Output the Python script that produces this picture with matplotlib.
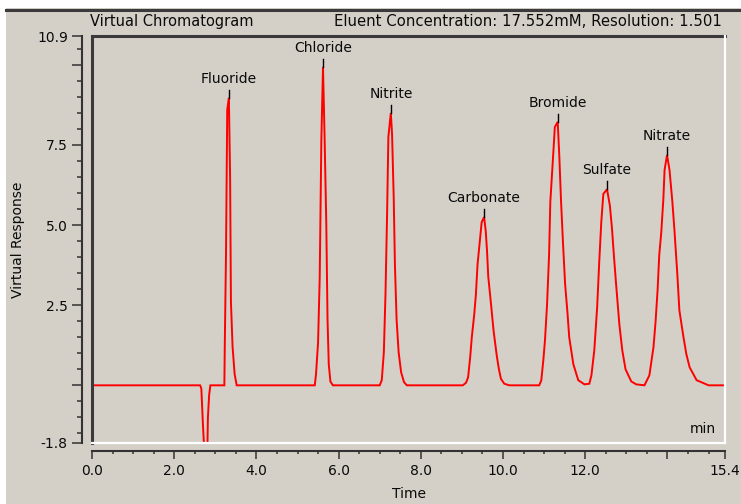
import matplotlib
matplotlib.use("Agg")
import matplotlib.pyplot as plt
from matplotlib.lines import Line2D
from matplotlib.patches import Rectangle
from matplotlib.ticker import MultipleLocator, FixedLocator, FixedFormatter

# ---- data ----
time_min = [0.0, 2.63, 2.66, 2.70, 2.75, 2.80, 2.82, 2.85, 2.88,
            3.22, 3.23, 3.26, 3.29, 3.33, 3.36, 3.38, 3.42, 3.47, 3.52,
            5.42, 5.45, 5.50, 5.54, 5.58, 5.62, 5.66, 5.70, 5.73, 5.76, 5.80, 5.86,
            7.00, 7.05, 7.10, 7.14, 7.18, 7.21, 7.27, 7.30, 7.34, 7.37, 7.41, 7.46, 7.52, 7.59, 7.66,
            9.02, 9.10, 9.15, 9.20, 9.24, 9.30, 9.34, 9.38, 9.44, 9.48, 9.54,
            9.58, 9.61, 9.64, 9.71, 9.77, 9.85, 9.90, 9.95, 10.03, 10.15,
            10.88, 10.93, 10.98, 11.02, 11.07, 11.12, 11.15, 11.22, 11.26, 11.33,
            11.37, 11.41, 11.46, 11.51, 11.57, 11.61, 11.71, 11.83, 11.98,
            12.10, 12.15, 12.22, 12.29, 12.34, 12.39, 12.44, 12.53,
            12.60, 12.65, 12.70, 12.76, 12.83, 12.90, 12.98, 13.12, 13.24, 13.44,
            13.56, 13.66, 13.71, 13.76, 13.80, 13.85, 13.90, 13.93, 13.99,
            14.05, 14.12, 14.17, 14.24, 14.29, 14.39, 14.46, 14.54, 14.71, 15.0, 15.4]

response = [0, 0, -0.1, -1.25, -2.5, -2.5, -1.0, -0.3, 0,
            0, 1.2, 4.1, 8.6, 8.97, 6.5, 2.6, 1.2, 0.35, 0,
            0, 0.35, 1.34, 3.37, 7.66, 9.94, 7.66, 5.03, 2.06, 0.66, 0.12, 0,
            0, 0.16, 1.03, 2.84, 5.4, 7.75, 8.5, 7.84, 5.87, 3.75, 2.06, 1.03, 0.41, 0.1, 0,
            0, 0.08, 0.25, 0.87, 1.5, 2.22, 2.84, 3.78, 4.56, 5.09, 5.25,
            4.8, 4.2, 3.4, 2.5, 1.7, 0.9, 0.5, 0.2, 0.05, 0,
            0, 0.15, 0.78, 1.4, 2.5, 4.06, 5.72, 7.19, 8.06, 8.22,
            7.12, 5.78, 4.4, 3.16, 2.22, 1.5, 0.66, 0.16, 0.03,
            0.05, 0.31, 1.09, 2.44, 3.84, 5.09, 5.97, 6.12,
            5.6, 4.9, 4.0, 3.0, 1.9, 1.1, 0.5, 0.12, 0.03, 0,
            0.31, 1.19, 1.97, 2.97, 4.06, 4.78, 5.81, 6.72, 7.19,
            6.72, 5.72, 4.84, 3.47, 2.34, 1.5, 0.97, 0.56, 0.16, 0, 0]

peak_names = ["Fluoride", "Chloride", "Nitrite", "Carbonate", "Bromide", "Sulfate", "Nitrate"]
peak_times = [3.33, 5.62, 7.27, 9.54, 11.33, 12.53, 13.99]
peak_heights = [8.97, 9.94, 8.5, 5.25, 8.22, 6.12, 7.19]

y_ticks = [-1.8, 0.0, 2.5, 5.0, 7.5, 10.0, 10.9]
y_tick_labels = ["-1.8", "", "2.5", "5.0", "7.5", "", "10.9"]
x_ticks = [0.0, 2.0, 4.0, 6.0, 8.0, 10.0, 12.0, 14.0, 15.4]
x_tick_labels = ["0.0", "2.0", "4.0", "6.0", "8.0", "10.0", "12.0", "", "15.4"]

title_left = "Virtual Chromatogram"
title_right = "Eluent Concentration: 17.552mM, Resolution: 1.501"

# ---- figure ----
W, H = 741, 504
BG = "#d4d0c8"
DARK = "#333333"
TXT = "#0a0a0a"
plt.rcParams["font.family"] = ["DejaVu Sans"]

fig = plt.figure(figsize=(W / 100, H / 100), dpi=100, facecolor=BG)

# white margins at top and left, dark rule under them
fig.patches.append(Rectangle((0, 1 - 8 / H), 1, 8 / H, transform=fig.transFigure,
                             facecolor="white", edgecolor="none", zorder=0))
fig.patches.append(Rectangle((0, 0), 6 / W, 1, transform=fig.transFigure,
                             facecolor="white", edgecolor="none", zorder=0))
fig.lines.append(Line2D([6 / W, 1], [1 - 10 / H, 1 - 10 / H], transform=fig.transFigure,
                        color="#3a3a3a", lw=2.2))

x0, x1 = 92, 725
y_top, y_bot = 36, 443
ax = fig.add_axes([x0 / W, (H - y_bot) / H, (x1 - x0) / W, (y_bot - y_top) / H])
ax.set_facecolor(BG)
ax.set_xlim(0, 15.4)
ax.set_ylim(-1.8, 10.9)

ax.plot(time_min, response, color="#ff0000", lw=1.4, solid_joinstyle="miter", zorder=3)

# peak markers and labels
for name, t, h in zip(peak_names, peak_times, peak_heights):
    ax.plot([t, t], [h, h + 0.25], color="black", lw=1.0, zorder=4)
    ax.annotate(name, xy=(t, h + 0.25), xytext=(0, 7), textcoords="offset pixels",
                ha="center", va="baseline", fontsize=10, color=TXT)

ax.text(0.985, 0.025, "min", transform=ax.transAxes, ha="right", va="baseline",
        fontsize=10, color=TXT)

# spines: detached axes
for s in ["top", "right"]:
    ax.spines[s].set_visible(False)
ax.spines["left"].set_position(("outward", 7.2))
ax.spines["bottom"].set_position(("outward", 5.8))
for s in ["left", "bottom"]:
    ax.spines[s].set_color(DARK)
    ax.spines[s].set_linewidth(1.5)

# sunken frame of plot area
ax.add_line(Line2D([0, 0], [0, 1], transform=ax.transAxes, color="#3a3a3a", lw=2.2,
                   clip_on=False, zorder=5))
ax.add_line(Line2D([0, 1], [1, 1], transform=ax.transAxes, color="#3a3a3a", lw=2.2,
                   clip_on=False, zorder=5))
ax.add_line(Line2D([1, 1], [0, 1], transform=ax.transAxes, color="white", lw=1.6,
                   clip_on=False, zorder=5))
ax.add_line(Line2D([0, 1], [0, 0], transform=ax.transAxes, color="white", lw=1.6,
                   clip_on=False, zorder=5))

# ticks
ax.yaxis.set_major_locator(FixedLocator(y_ticks))
ax.yaxis.set_major_formatter(FixedFormatter(y_tick_labels))
ax.yaxis.set_minor_locator(MultipleLocator(0.5))
ax.xaxis.set_major_locator(FixedLocator(x_ticks))
ax.xaxis.set_major_formatter(FixedFormatter(x_tick_labels))
ax.xaxis.set_minor_locator(MultipleLocator(0.5))

ax.tick_params(axis="y", which="major", direction="out", length=7.2, width=1.1,
               color=DARK, pad=3, labelsize=10, labelcolor=TXT)
ax.tick_params(axis="y", which="minor", direction="out", length=3.6, width=1.1, color=DARK)
ax.tick_params(axis="x", which="major", direction="out", length=5.8, width=1.1,
               color=DARK, pad=3.5, labelsize=10, labelcolor=TXT)
ax.tick_params(axis="x", which="minor", direction="out", length=2.5, width=1.1, color=DARK)

ax.set_xlabel("Time", fontsize=10, color=TXT)
ax.xaxis.set_label_coords(0.5, (y_bot - 487) / (y_bot - y_top))
ax.set_ylabel("Virtual Response", fontsize=10, color=TXT)
ax.yaxis.set_label_coords((25 - x0) / (x1 - x0), 0.5)

# header
fig.text(90 / W, 1 - 26 / H, title_left, ha="left", va="baseline", fontsize=10.5, color=TXT)
fig.text(722 / W, 1 - 26 / H, title_right, ha="right", va="baseline", fontsize=10.7, color=TXT)

fig.savefig("out.png", dpi=100, facecolor=BG)
